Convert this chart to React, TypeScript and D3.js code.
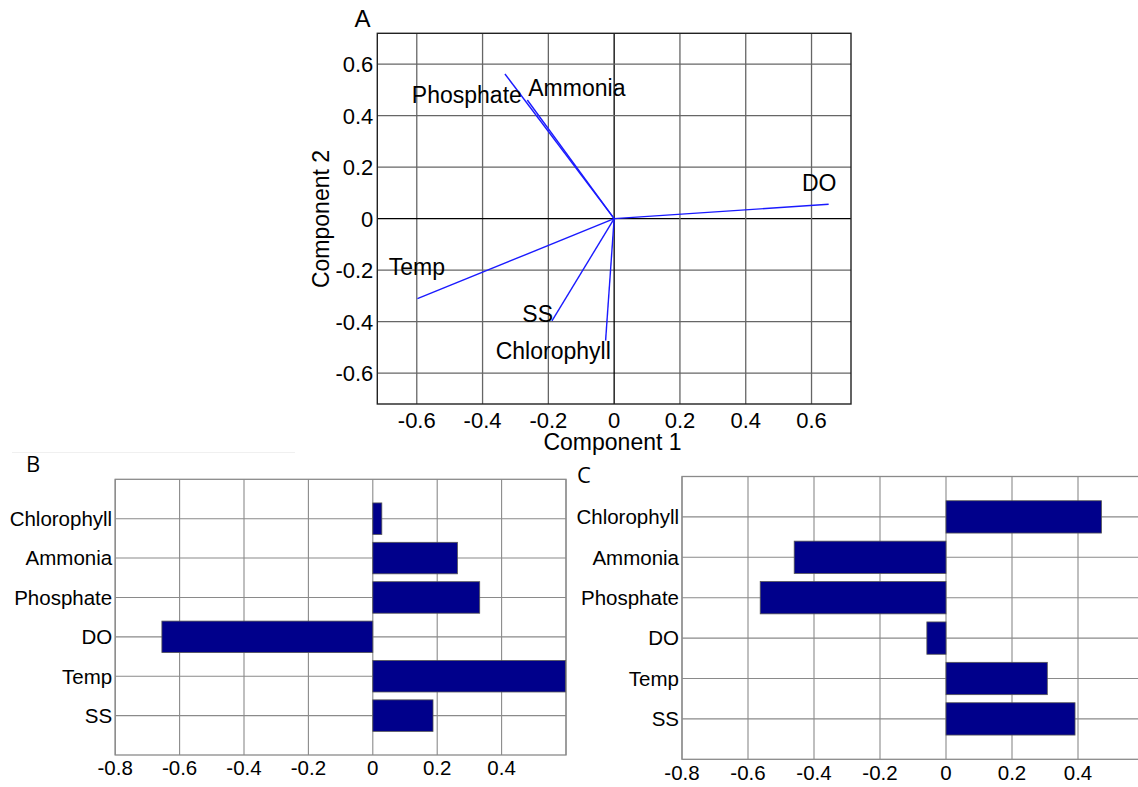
import React from "react";
import * as d3 from "d3";

// Biplot loadings (panel A)
const biplotVars = ["Phosphate", "Ammonia", "DO", "Temp", "SS", "Chlorophyll"];
const comp1 = [-0.332, -0.264, 0.652, -0.598, -0.189, -0.026];
const comp2 = [0.562, 0.461, 0.056, -0.311, -0.397, -0.474];
// Label anchors in data units (left edge, baseline)
const labelX = [-0.615, -0.261, 0.571, -0.685, -0.279, -0.36];
const labelY = [0.449, 0.477, 0.107, -0.219, -0.4, -0.546];
const biplotTicks = [-0.6, -0.4, -0.2, 0, 0.2, 0.4, 0.6];

// Bar panels (B and C)
const barVars = ["Chlorophyll", "Ammonia", "Phosphate", "DO", "Temp", "SS"];
const loadingsB = [0.028, 0.263, 0.332, -0.655, 0.598, 0.187];
const loadingsC = [0.471, -0.46, -0.563, -0.058, 0.307, 0.391];
const barGridX = [-0.8, -0.6, -0.4, -0.2, 0, 0.2, 0.4, 0.6];
const barTickLabels = [-0.8, -0.6, -0.4, -0.2, 0, 0.2, 0.4];

const FONT = "'Liberation Sans', Arial, sans-serif";
const fmt = (v: number) => (v === 0 ? "0" : String(v));

function Biplot() {
  const left = 377.3, right = 851, top = 33.3, bottom = 404;
  const lim = 0.72;
  const x = d3.scaleLinear().domain([-lim, lim]).range([left, right]);
  const y = d3.scaleLinear().domain([-lim, lim]).range([bottom, top]);
  return (
    <g>
      <text x={362.5} y={26.7} fontSize={24} fontFamily={FONT} textAnchor="middle">A</text>
      {biplotTicks.map((t) => (
        <g key={"gx" + t}>
          <line x1={x(t)} x2={x(t)} y1={top} y2={bottom} stroke={t === 0 ? "#000" : "#666"} strokeWidth={1.3} />
          <line x1={left} x2={right} y1={y(t)} y2={y(t)} stroke={t === 0 ? "#000" : "#666"} strokeWidth={1.3} />
          <text x={x(t)} y={bottom + 24} fontSize={22} fontFamily={FONT} textAnchor="middle">{fmt(t)}</text>
          <text x={left - 4} y={y(t)} dy="0.36em" fontSize={22} fontFamily={FONT} textAnchor="end">{fmt(t)}</text>
        </g>
      ))}
      <rect x={left} y={top} width={right - left} height={bottom - top} fill="none" stroke="#222" strokeWidth={1.4} />
      {biplotVars.map((v, i) => (
        <line key={"v" + v} x1={x(0)} y1={y(0)} x2={x(comp1[i])} y2={y(comp2[i])} stroke="#1a1aff" strokeWidth={1.4} />
      ))}
      {biplotVars.map((v, i) => (
        <text key={"l" + v} x={x(labelX[i])} y={y(labelY[i])} fontSize={23} fontFamily={FONT} fill="#000">{v}</text>
      ))}
      <text x={612.5} y={450} fontSize={23} fontFamily={FONT} textAnchor="middle">Component 1</text>
      <text transform={`translate(329,219) rotate(-90)`} fontSize={23} fontFamily={FONT} textAnchor="middle">Component 2</text>
    </g>
  );
}

function BarPanel(props: {
  letter: string; letterX: number; letterY: number;
  left: number; right: number; top: number; bottom: number; values: number[];
  tickFont: number; labelGap: number;
}) {
  const { letter, letterX, letterY, left, right, top, bottom, values, tickFont, labelGap } = props;
  const x = d3.scaleLinear().domain([-0.8, 0.6]).range([left, right]);
  const y = d3.scaleLinear().domain([0, 7]).range([bottom, top]);
  const n = barVars.length;
  const pos = (i: number) => n - i; // first category drawn at the top
  const h = 0.8;
  return (
    <g>
      <text x={letterX} y={letterY} fontSize={22} fontFamily="'Open Sans', sans-serif">{letter}</text>
      {barGridX.map((t) => (
        <line key={"gx" + t} x1={x(t)} x2={x(t)} y1={top} y2={bottom} stroke="#8a8a8a" strokeWidth={1.1} />
      ))}
      {barVars.map((v, i) => (
        <line key={"gy" + v} x1={left} x2={right} y1={y(pos(i))} y2={y(pos(i))} stroke="#8a8a8a" strokeWidth={1.1} />
      ))}
      <rect x={left} y={top} width={right - left} height={bottom - top} fill="none" stroke="#8a8a8a" strokeWidth={1.3} />
      {barVars.map((v, i) => {
        const x0 = x(Math.min(0, values[i]));
        const x1 = x(Math.max(0, values[i]));
        return (
          <rect key={"b" + v} x={x0} y={y(pos(i) + h / 2)} width={x1 - x0} height={y(pos(i) - h / 2) - y(pos(i) + h / 2)}
            fill="#00008b" stroke="#555" strokeWidth={0.8} />
        );
      })}
      {barVars.map((v, i) => (
        <text key={"t" + v} x={left - 3} y={y(pos(i))} dy="0.36em" fontSize={tickFont} fontFamily={FONT} textAnchor="end">{v}</text>
      ))}
      {barTickLabels.map((t) => (
        <text key={"tx" + t} x={x(t)} y={bottom + labelGap} fontSize={tickFont} fontFamily={FONT} textAnchor="middle">{fmt(t)}</text>
      ))}
    </g>
  );
}

export default function App() {
  return (
    <svg width={1138} height={787} style={{ position: "absolute", left: 0, top: 0, background: "#fff", overflow: "hidden" }}>
      <rect x={0} y={0} width={1138} height={787} fill="#fff" />
      <line x1={12} x2={295} y1={452.5} y2={452.5} stroke="#f0f0f0" strokeWidth={1} />
      <Biplot />
      <BarPanel letter="B" letterX={26} letterY={472.3} left={115.2} right={566} top={479.3} bottom={755}
        values={loadingsB} tickFont={20.5} labelGap={20} />
      <BarPanel letter="C" letterX={577} letterY={483.3} left={682} right={1144} top={476.5} bottom={759.3}
        values={loadingsC} tickFont={20.5} labelGap={21} />
    </svg>
  );
}
